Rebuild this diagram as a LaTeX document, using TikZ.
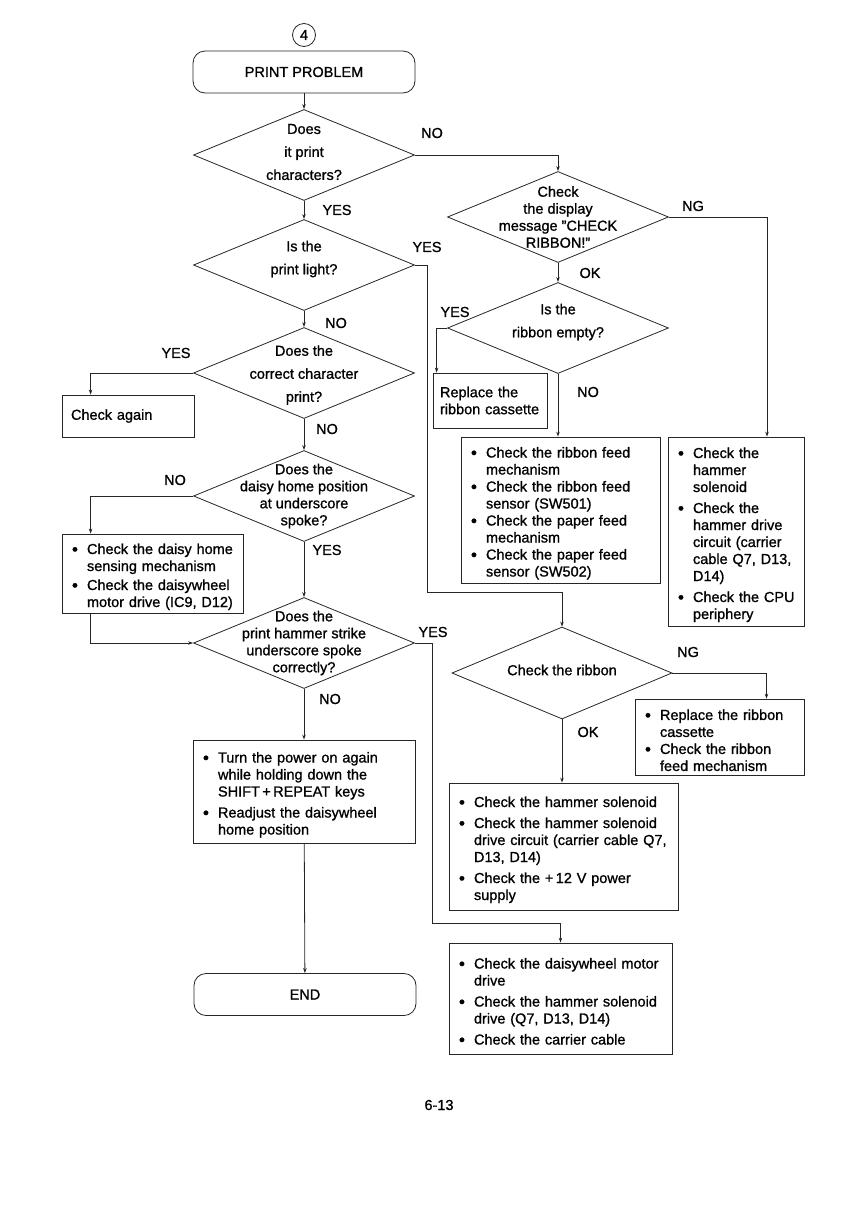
\documentclass[tikz,border=0pt]{standalone}
\usepackage{fontspec}
\setmainfont{Liberation Sans}[FakeBold=1]
\usetikzlibrary{shapes.geometric,arrows.meta}

% one bullet point with hanging indent
\newcommand{\bitm}[1]{\par\hangindent=16pt\hangafter=1\noindent\hbox to 16pt{\hskip1pt\raisebox{-1pt}{\fontsize{17}{17}\selectfont\textbullet}\hss}#1\par}
\newcommand{\gap}{\vskip4pt}

\tikzset{
  txt/.style={font=\fontsize{14.5}{17}\selectfont},
  flow/.style={draw=black!85, line width=0.8pt},
  arr/.style={flow, -{Stealth[length=5pt,width=3.5pt]}},
  decision/.style={diamond, flow, minimum width=221pt, minimum height=91pt, inner sep=0pt},
  qwide/.style={align=center, font=\fontsize{14.5}{23}\selectfont},
  qtight/.style={align=center, txt},
  terminal/.style={flow, txt, rounded corners=12pt, minimum width=222pt, minimum height=42pt},
  notebox/.style={flow, txt, align=left, inner xsep=9pt, inner ysep=3pt},
  answer/.style={txt}
}

\begin{document}
\begin{tikzpicture}[x=1pt, y=-1pt]
  \fill[white] (0,0) rectangle (864,1210);
  \useasboundingbox (0,0) rectangle (864,1210);

  \node[flow, txt, circle, minimum size=23pt, inner sep=0pt] (pg) at (304,35) {4};
  \node[terminal] (start) at (304,72) {PRINT PROBLEM};

  % left column
  \node[decision] (d1) at (304,155) {};
  \node[qwide] (d1t) at ([yshift=3pt]d1) {Does\\it print\\characters?};
  \node[decision] (d2) at (304,265) {};
  \node[qwide] (d2t) at ([yshift=6pt]d2) {Is the\\print light?};
  \node[decision] (d3) at (304,373) {};
  \node[qwide] (d3t) at ([yshift=-2pt]d3) {Does the\\correct character\\print?};
  \node[decision] (d4) at (304,496) {};
  \node[qtight] (d4t) at (d4) {Does the\\daisy home position\\at underscore\\spoke?};
  \node[decision] (d5) at (304,643) {};
  \node[qtight] (d5t) at (d5) {Does the\\print hammer strike\\underscore spoke\\correctly?};

  \node[notebox, minimum width=132pt, minimum height=42pt, text width=114pt] (again) at (128,416) {Check again};
  \node[notebox, minimum width=181pt, minimum height=79pt, text width=163pt] (daisy) at (152.5,573.5)
    {\bitm{Check the daisy home\newline sensing mechanism}\vskip2pt
     \bitm{Check the daisywheel\newline motor drive (IC9, D12)}};
  \node[notebox, minimum width=222pt, minimum height=103pt, text width=204pt] (power) at (304,791.5)
    {\bitm{Turn the power on again\newline while holding down the\newline SHIFT\,+\,REPEAT keys}\gap
     \bitm{Readjust the daisywheel\newline home position}};
  \node[terminal] (finish) at (305,994.5) {END};

  % right column
  \node[decision] (d6) at (558,217) {};
  \node[qtight] (d6t) at (d6) {Check\\the display\\message "CHECK\\RIBBON!"};
  \node[decision] (d7) at (558,328) {};
  \node[qwide] (d7t) at ([yshift=6pt]d7) {Is the\\ribbon empty?};
  \node[decision, minimum width=220pt, minimum height=92pt] (d8) at (562,673) {};
  \node[qtight] (d8t) at ([yshift=3pt]d8) {Check the ribbon};

  \node[notebox, minimum width=114pt, minimum height=55pt, text width=100pt, inner xsep=7pt] (rplc) at (490,400.5)
    {Replace the\\ribbon cassette};
  \node[notebox, minimum width=199pt, minimum height=146pt, text width=181pt] (feed) at (560.5,510)
    {\bitm{Check the ribbon feed\newline mechanism}
     \bitm{Check the ribbon feed\newline sensor (SW501)}
     \bitm{Check the paper feed\newline mechanism}
     \bitm{Check the paper feed\newline sensor (SW502)}};
  \node[notebox, minimum width=136pt, minimum height=189pt, text width=118pt] (hamr) at (736,531.5)
    {\bitm{Check the\newline hammer\newline solenoid}\gap
     \bitm{Check the\newline hammer drive\newline circuit (carrier\newline cable Q7, D13,\newline D14)}\gap
     \bitm{Check the CPU\newline periphery}};
  \node[notebox, minimum width=169pt, minimum height=76pt, text width=151pt] (cass) at (719.5,737)
    {\bitm{Replace the ribbon\newline cassette}
     \bitm{Check the ribbon\newline feed mechanism}};
  \node[notebox, minimum width=229pt, minimum height=127pt, text width=211pt] (sol) at (563.5,846.5)
    {\bitm{Check the hammer solenoid}\gap
     \bitm{Check the hammer solenoid\newline drive circuit (carrier cable Q7,\newline D13, D14)}\gap
     \bitm{Check the +\,12 V power\newline supply}};
  \node[notebox, minimum width=223pt, minimum height=111pt, text width=205pt] (motor) at (560.5,998.5)
    {\bitm{Check the daisywheel motor\newline drive}\gap
     \bitm{Check the hammer solenoid\newline drive (Q7, D13, D14)}\gap
     \bitm{Check the carrier cable}};

  \coordinate (j2) at (427,592);
  \coordinate (j5) at (432,923);

  % answers
  \node[answer] (a1no) at (432,133) {NO};
  \node[answer] (a1yes) at (337,210) {YES};
  \node[answer] (a2yes) at (427,247) {YES};
  \node[answer] (a2no) at (336,323) {NO};
  \node[answer] (a3yes) at (176,353) {YES};
  \node[answer] (a3no) at (327,429) {NO};
  \node[answer] (a4no) at (175,480) {NO};
  \node[answer] (a4yes) at (327,550) {YES};
  \node[answer] (a5yes) at (433,632) {YES};
  \node[answer] (a5no) at (330,699) {NO};
  \node[answer] (a6ng) at (693,206) {NG};
  \node[answer] (a6ok) at (590,273) {OK};
  \node[answer] (a7yes) at (455,312) {YES};
  \node[answer] (a7no) at (588,392) {NO};
  \node[answer] (a8ng) at (688,652) {NG};
  \node[answer] (a8ok) at (588,732) {OK};

  \node[txt] (pgnum) at (439,1105) {6-13};

  % connectors
  \draw[arr] (start) -- (d1);
  \draw[arr] (d1) -- (d2);
  \draw[arr] (d2) -- (d3);
  \draw[arr] (d3) -- (d4);
  \draw[arr] (d4) -- (d5);
  \draw[arr] (d5) -- (power);
  \draw[arr] (power) -- (finish);
  \draw[arr] (d1.east) -| (d6.north);
  \draw[arr] (d2.east) -| (j2) -| (d8.north);
  \draw[arr] (d3.west) -| ([xshift=29pt]again.north west);
  \draw[arr] (d4.west) -| ([xshift=29pt]daisy.north west);
  \draw[arr] ([xshift=29pt]daisy.south west) |- (d5.west);
  \draw[arr] (d5.east) -| (j5) -| (motor.north);
  \draw[arr] (d6) -- (d7);
  \draw[arr] (d6.east) -| ([xshift=31pt]hamr.north);
  \draw[arr] (d7.west) -| ([xshift=4pt]rplc.north west);
  \draw[arr] (d7.south) -- (d7.south |- feed.north);
  \draw[arr] (d8.east) -| ([xshift=47pt]cass.north);
  \draw[arr] (d8.south) -- (d8.south |- sol.north);
\end{tikzpicture}
\end{document}
